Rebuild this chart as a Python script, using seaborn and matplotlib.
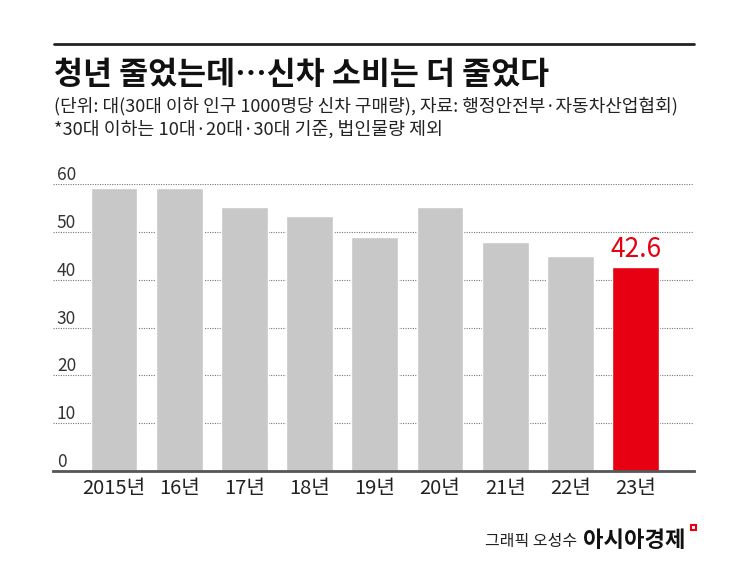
import seaborn as sns
import pandas as pd
from matplotlib import pyplot as plt
from matplotlib import transforms

# chart data
years = ['2015년', '16년', '17년', '18년', '19년', '20년', '21년', '22년', '23년']
values = [59.3, 59.2, 55.3, 53.3, 49.0, 55.3, 47.9, 44.9, 42.6]
highlight = ['past'] * 8 + ['latest']
y_ticks = [0, 10, 20, 30, 40, 50, 60]

title = '청년 줄었는데…신차 소비는 더 줄었다'
sub1 = '(단위: 대(30대 이하 인구 1000명당 신차 구매량), 자료: 행정안전부·자동차산업협회)'
sub2 = '*30대 이하는 10대·20대·30대 기준, 법인물량 제외'

sns.set_theme(style='white')
plt.rcParams['font.family'] = ['Noto Sans CJK KR', 'DejaVu Sans']

df = pd.DataFrame({'year': years, 'value': values, 'kind': highlight})
palette = {'past': '#c8c8c8', 'latest': '#e60012'}

fig = plt.figure(figsize=(7.45, 5.66), dpi=100)
ax = fig.add_axes([53 / 745, 1 - 470.7 / 566, 641 / 745, 286.4 / 566])

sns.barplot(data=df, x='year', y='value', hue='kind', palette=palette,
            dodge=False, width=0.716, legend=False, ax=ax, saturation=1)

ax.set_xlim(-0.935, 8.895)
ax.set_ylim(0, 60)
ax.set_yticks(y_ticks)
ax.set_yticklabels([])
ax.tick_params(axis='y', length=0)
ax.tick_params(axis='x', length=0, pad=5, labelsize=14.5, labelcolor='#222222')
ax.set_xlabel('')
ax.set_ylabel('')
ax.yaxis.grid(True, linestyle=(0, (1, 1.2)), color='#777777', linewidth=0.8)
ax.set_axisbelow(True)
for s in ['top', 'left', 'right']:
    ax.spines[s].set_visible(False)
ax.spines['bottom'].set_color('#555555')
ax.spines['bottom'].set_linewidth(2)

# y tick labels sit above the gridlines, inside the plot
trans = transforms.blended_transform_factory(ax.transAxes, ax.transData)
for t in y_ticks:
    ax.text(0.006, t, str(t), transform=trans, ha='left', va='bottom',
            fontsize=12.5, color='#333333')

# value label for last bar
ax.text(len(values) - 1, values[-1] + 0.9, f'{values[-1]}', ha='center', va='bottom',
        fontsize=19, color='#e60012')

# header
fig.add_artist(plt.Line2D([54 / 745, 694 / 745], [1 - 44 / 566] * 2, color='#222222', linewidth=2))
fig.text(54 / 745, 1 - 84 / 566, title, fontsize=22.7, fontweight='bold', color='#111111')
fig.text(54 / 745, 1 - 111 / 566, sub1, fontsize=13, color='#222222')
fig.text(54 / 745, 1 - 135 / 566, sub2, fontsize=13.2, color='#222222')

# footer
fig.text(577 / 745, 1 - 546 / 566, '그래픽 오성수', fontsize=11.5, color='#222222', ha='right')
fig.text(583 / 745, 1 - 547 / 566, '아시아경제', fontsize=16, fontweight='bold', color='#111111')
fig.add_artist(plt.Rectangle((691 / 745, 1 - 530 / 566), 4.5 / 745, 5.5 / 566,
                             facecolor='white', edgecolor='#e60012', linewidth=1.5))

plt.savefig('out.png', dpi=100)
